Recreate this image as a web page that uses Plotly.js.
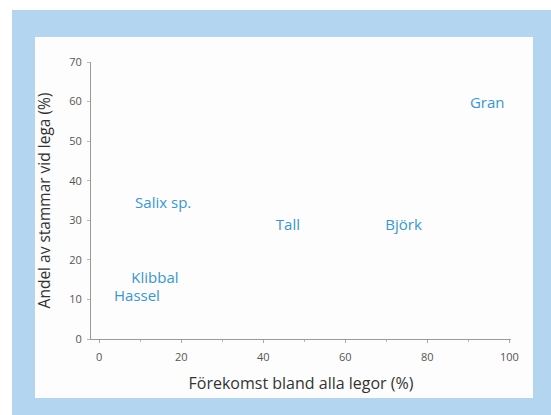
<!DOCTYPE html>
<html>
<head>
<meta charset="utf-8">
<script src="https://cdn.plot.ly/plotly-3.0.1.min.js"></script>
<style>
html,body{margin:0;padding:0;background:#ffffff;}
#chart{width:551px;height:415px;}
</style>
</head>
<body>
<div id="chart"></div>
<script>
// Species (labels drawn as text marks)
const species = ["Gran", "Björk", "Tall", "Salix sp.", "Klibbal", "Hassel"];
// Förekomst bland alla legor (%)
const occurrence = [94.6, 74.2, 46, 15.6, 13.6, 9.2];
// Andel av stammar vid lega (%)
const shareAtLega = [59.4, 28.5, 28.5, 34.1, 15.2, 10.6];

const xTickVals = [0, 20, 40, 60, 80, 100];
const yTickVals = [0, 10, 20, 30, 40, 50, 60, 70];

const trace = {
  type: "scatter",
  mode: "text",
  x: occurrence,
  y: shareAtLega,
  text: species,
  textposition: "middle center",
  textfont: {family: "Open Sans, sans-serif", size: 15, color: "#3a96cc"},
  hoverinfo: "text",
  showlegend: false
};

const L = 91, R = 40, T = 62, B = 76;
const W = 551 - L - R, H = 415 - T - B;
function px(x){ return (x - L) / W; }
function py(y){ return (415 - B - y) / H; }

const layout = {
  width: 551,
  height: 415,
  margin: {l: L, r: R, t: T, b: B, pad: 0},
  paper_bgcolor: "#ffffff",
  plot_bgcolor: "rgba(0,0,0,0)",
  font: {family: "Open Sans, sans-serif", color: "#333333"},
  xaxis: {
    range: [-2, 100.4],
    tickmode: "array",
    tickvals: xTickVals,
    ticktext: xTickVals.map(String),
    showgrid: false,
    zeroline: false,
    showline: true,
    linecolor: "#9a9a9a",
    linewidth: 1,
    ticks: "outside",
    ticklen: 3,
    tickcolor: "#a8a8a8",
    ticklabelstandoff: 5,
    minor: {dtick: 10, tick0: 0, ticks: "outside", ticklen: 2, tickcolor: "#b8b8b8"},
    tickfont: {size: 11, color: "#555555"},
    title: {text: "Förekomst bland alla legor (%)", font: {size: 16, color: "#333333"}, standoff: 14}
  },
  yaxis: {
    range: [0, 70],
    tickmode: "array",
    tickvals: yTickVals,
    ticktext: yTickVals.map(String),
    showgrid: false,
    zeroline: false,
    showline: true,
    linecolor: "#9a9a9a",
    linewidth: 1,
    ticks: "outside",
    ticklen: 3,
    tickcolor: "#b8b8b8",
    ticklabelstandoff: 3,
    tickfont: {size: 11, color: "#555555"},
    title: {text: "Andel av stammar vid lega (%)", font: {size: 15.5, color: "#333333"}, standoff: 14}
  },
  shapes: [
    {type: "rect", xref: "paper", yref: "paper", layer: "below",
     x0: px(12), x1: px(551), y0: py(415), y1: py(10),
     fillcolor: "#b3d5ef", line: {width: 0}},
    {type: "rect", xref: "paper", yref: "paper", layer: "below",
     x0: px(35), x1: px(533), y0: py(398), y1: py(37),
     fillcolor: "#fdfdfd", line: {width: 0}}
  ]
};

Plotly.newPlot("chart", [trace], layout, {displayModeBar: false, staticPlot: true});
</script>
</body>
</html>
